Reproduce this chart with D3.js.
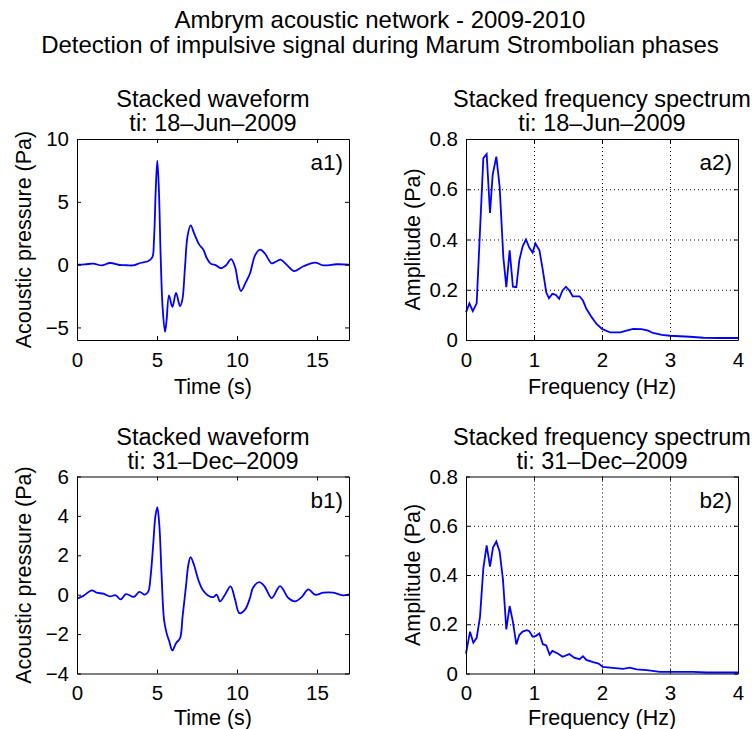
<!DOCTYPE html>
<html>
<script src="https://d3js.org/d3.v7.min.js"></script>

<head>
    <style>
        body {
            margin: 0;
            background-color: #fff;
        }

        svg {
            display: block;
            font-family: "Liberation Sans", Arial, Helvetica, sans-serif;
        }
    </style>
</head>

<body>
</body>
<script>
    const titleLines = ["Ambrym acoustic network - 2009-2010",
        "Detection of impulsive signal during Marum Strombolian phases"];

    // a1) stacked waveform, 18-Jun-2009
    const waveA_t = [0, 0.5, 1.02, 1.54, 2.06, 2.69, 3.1, 3.52, 3.94, 4.46, 4.71, 4.81, 4.92, 5.02, 5.12, 5.23, 5.35,
        5.5, 5.6, 5.75, 5.96, 6.19, 6.44, 6.58, 6.75, 6.9, 7.1, 7.33, 7.63, 7.9, 8.1, 8.35, 8.69, 9.0, 9.31, 9.63,
        9.88, 10.08, 10.25, 10.56, 10.81, 11.13, 11.44, 11.75, 12.17, 12.45, 12.73, 13.1, 13.58, 14.15, 14.88, 15.4,
        16.23, 17];
    const waveA_p = [0, 0.02, 0.08, -0.06, 0.13, -0.03, -0.05, -0.06, 0.13, 0.29, 0.6, 1.93, 5.9, 8.28, 5.9, 0.6, -3.37,
        -5.35, -4.42, -2.44, -3.37, -2.25, -3.31, -2.83, -0.19, 2.19, 3.12, 2.46, 1.61, 1.19, 0.55, 0.08, -0.06, -0.29,
        -0.06, 0.44, -0.19, -1.51, -2.1, -1.38, -0.71, 0.74, 1.19, 0.87, 0.1, 0.25, 0.39, 0, -0.51, -0.13, 0.16, -0.06,
        0.03, 0];

    // b1) stacked waveform, 31-Dec-2009
    const waveB_t = [0, 0.4, 0.92, 1.23, 1.65, 2.06, 2.42, 2.73, 3.06, 3.56, 3.9, 4.25, 4.46, 4.6, 4.77, 4.9, 5.02, 5.15,
        5.29, 5.44, 5.6, 5.77, 5.96, 6.19, 6.44, 6.6, 6.81, 6.96, 7.1, 7.31, 7.58, 7.85, 8.21, 8.52, 8.73, 8.94, 9.25,
        9.6, 9.88, 10.15, 10.5, 10.81, 11.0, 11.38, 11.71, 12.17, 12.69, 13.21, 13.62, 14.04, 14.46, 14.88, 15.4,
        16.02, 16.65, 17];
    const waveB_p = [-0.2, -0.06, 0.22, 0.1, 0.05, -0.08, -0.03, -0.24, 0.03, -0.11, 0.14, 0, 0.17, 0.93, 2.63, 3.98,
        4.44, 3.48, 0.93, -1.27, -1.95, -2.38, -2.83, -2.46, -2.21, -1.1, 0.42, 1.52, 1.91, 1.52, 0.76, 0.25, -0.05,
        -0.12, 0, -0.34, 0, 0.42, -0.25, -0.94, -0.76, -0.17, 0.35, 0.64, 0.44, -0.17, 0.44, -0.17, -0.34, -0.12, 0.27,
        0, 0.1, 0.1, -0.03, 0.02];

    // a2) stacked frequency spectrum, 18-Jun-2009
    const specA_f = [0, 0.05, 0.1, 0.157, 0.255, 0.304, 0.353, 0.392, 0.446, 0.495, 0.549, 0.593, 0.642, 0.69, 0.74,
        0.784, 0.833, 0.882, 0.93, 0.98, 1.02, 1.08, 1.13, 1.18, 1.22, 1.27, 1.32, 1.37, 1.42, 1.47, 1.52, 1.57, 1.67,
        1.72, 1.77, 1.85, 1.92, 2.0, 2.12, 2.27, 2.36, 2.46, 2.58, 2.68, 2.75, 2.88, 3.0, 3.29, 3.49, 3.74, 4.0];
    const specA_amp = [0.11, 0.146, 0.115, 0.146, 0.724, 0.74, 0.506, 0.657, 0.73, 0.61, 0.33, 0.21, 0.357, 0.212, 0.21,
        0.317, 0.373, 0.4, 0.368, 0.348, 0.384, 0.357, 0.277, 0.19, 0.166, 0.184, 0.18, 0.164, 0.197, 0.212, 0.197,
        0.174, 0.174, 0.157, 0.124, 0.09, 0.064, 0.044, 0.03, 0.03, 0.037, 0.044, 0.043, 0.037, 0.028, 0.02, 0.017,
        0.013, 0.009, 0.008, 0.008];

    // b2) stacked frequency spectrum, 31-Dec-2009
    const specB_f = [0, 0.059, 0.108, 0.157, 0.206, 0.255, 0.304, 0.353, 0.397, 0.446, 0.495, 0.544, 0.593, 0.642,
        0.69, 0.74, 0.784, 0.833, 0.892, 0.93, 0.98, 1.03, 1.08, 1.13, 1.18, 1.23, 1.27, 1.35, 1.42, 1.52, 1.59, 1.67,
        1.72, 1.77, 1.87, 1.95, 2.01, 2.12, 2.31, 2.41, 2.51, 2.66, 2.85, 3.05, 3.34, 3.54, 3.83, 4.0];
    const specB_amp = [0.081, 0.17, 0.125, 0.145, 0.23, 0.427, 0.52, 0.434, 0.511, 0.536, 0.495, 0.38, 0.179, 0.274,
        0.21, 0.118, 0.156, 0.17, 0.176, 0.172, 0.149, 0.153, 0.163, 0.119, 0.114, 0.077, 0.092, 0.081, 0.068, 0.079,
        0.064, 0.058, 0.07, 0.055, 0.046, 0.04, 0.027, 0.024, 0.019, 0.024, 0.017, 0.014, 0.007, 0.007, 0.007, 0.004,
        0.004, 0.004];

    const timeTicks = [0, 5, 10, 15];
    const freqTicks = [0, 1, 2, 3, 4];
    const ampTicks = [0, 0.2, 0.4, 0.6, 0.8];
    const waveATicks = [-5, 0, 5, 10];
    const waveBTicks = [-4, -2, 0, 2, 4, 6];
    const dates = ["18\u2013Jun\u20132009", "31\u2013Dec\u20132009"];

    const width = 755,
        height = 729;
    const svg = d3.select("body").append("svg").attr("width", width).attr("height", height);

    const fmt = d => (d < 0 ? "\u2212" + Math.abs(d) : String(d));

    function panel(p) {
        const x = d3.scaleLinear().domain(p.xDomain).range([p.left, p.right]);
        const y = d3.scaleLinear().domain(p.yDomain).range([p.bottom, p.top]);
        const g = svg.append("g");
        const h = p.bottom - p.top,
            w = p.right - p.left;

        if (p.grid) {
            g.append("g").attr("transform", `translate(0,${p.bottom})`)
                .call(d3.axisBottom(x).tickValues(p.xTicks.slice(1, -1)).tickSize(-h).tickFormat(""))
                .call(a => a.select(".domain").remove());
            g.append("g").attr("transform", `translate(${p.left},0)`)
                .call(d3.axisLeft(y).tickValues(p.yTicks.slice(1, -1)).tickSize(-w).tickFormat(""))
                .call(a => a.select(".domain").remove());
            g.selectAll(".tick line").attr("stroke", "#000").attr("stroke-dasharray", "1,3");
        }

        const line = d3.line().x(d => x(d[0])).y(d => y(d[1])).curve(p.curve);
        g.append("path")
            .datum(d3.zip(p.xs, p.ys))
            .attr("fill", "none")
            .attr("stroke", "#0000ff")
            .attr("stroke-width", 1.8)
            .attr("d", line);

        const axes = [
            [d3.axisBottom(x).tickValues(p.xTicks).tickFormat(fmt), `translate(0,${p.bottom})`],
            [d3.axisLeft(y).tickValues(p.yTicks).tickFormat(fmt), `translate(${p.left},0)`],
            [d3.axisTop(x).tickValues(p.xTicks).tickFormat(""), `translate(0,${p.top})`],
            [d3.axisRight(y).tickValues(p.yTicks).tickFormat(""), `translate(${p.right},0)`]
        ];
        axes.forEach(([ax, tr], i) => {
            const a = g.append("g").attr("transform", tr)
                .call(ax.tickSizeInner(-4).tickSizeOuter(0).tickPadding(i === 0 ? 12 : 8));
            a.attr("font-size", 20.5).attr("font-family", null);
            a.selectAll("path, line").attr("stroke", "#000");
        });

        g.append("text")
            .attr("x", p.right - 6)
            .attr("y", p.top + 31)
            .attr("text-anchor", "end")
            .attr("font-size", 22.5)
            .text(p.letter);

        const cx = (p.left + p.right) / 2;
        g.append("text").attr("x", cx).attr("y", p.top - 32)
            .attr("text-anchor", "middle").attr("font-size", 23.5).text(p.title);
        g.append("text").attr("x", cx).attr("y", p.top - 8)
            .attr("text-anchor", "middle").attr("font-size", 23.5).text("ti: " + p.date);

        g.append("text").attr("x", cx).attr("y", p.bottom + p.xLabelGap)
            .attr("text-anchor", "middle").attr("font-size", 21.5).text(p.xLabel);
        g.append("text")
            .attr("transform", `translate(${p.yLabelX},${(p.top + p.bottom) / 2}) rotate(-90)`)
            .attr("text-anchor", "middle").attr("font-size", 21.5).text(p.yLabel);
    }

    const rows = [{ top: 139, bottom: 340, xLabelGap: 54 }, { top: 476.5, bottom: 673.5, xLabelGap: 51 }];
    const waveCols = { left: 77, right: 349, yLabelX: 31 };
    const specCols = { left: 466, right: 738, yLabelX: 420 };

    const panels = [
        Object.assign({ xs: waveA_t, ys: waveA_p, yDomain: [-6, 10], yTicks: waveATicks, letter: "a1)", date: dates[0] }, rows[0], waveCols),
        Object.assign({ xs: specA_f, ys: specA_amp, letter: "a2)", date: dates[0] }, rows[0], specCols),
        Object.assign({ xs: waveB_t, ys: waveB_p, yDomain: [-4, 6], yTicks: waveBTicks, letter: "b1)", date: dates[1] }, rows[1], waveCols),
        Object.assign({ xs: specB_f, ys: specB_amp, letter: "b2)", date: dates[1] }, rows[1], specCols)
    ];

    panels.forEach(p => {
        if (p.xs === waveA_t || p.xs === waveB_t) {
            Object.assign(p, {
                xDomain: [0, 17], xTicks: timeTicks, curve: d3.curveCatmullRom.alpha(0.5), grid: false,
                title: "Stacked waveform", xLabel: "Time (s)", yLabel: "Acoustic pressure (Pa)"
            });
        } else {
            Object.assign(p, {
                xDomain: [0, 4], xTicks: freqTicks, yDomain: [0, 0.8], yTicks: ampTicks, curve: d3.curveLinear,
                grid: true, title: "Stacked frequency spectrum", xLabel: "Frequency (Hz)", yLabel: "Amplitude (Pa)"
            });
        }
        panel(p);
    });

    svg.selectAll(".title")
        .data(titleLines)
        .join("text")
        .attr("class", "title")
        .attr("x", 380)
        .attr("y", (d, i) => 28 + i * 25)
        .attr("text-anchor", "middle")
        .attr("font-size", 24)
        .text(d => d);
</script>

</html>
